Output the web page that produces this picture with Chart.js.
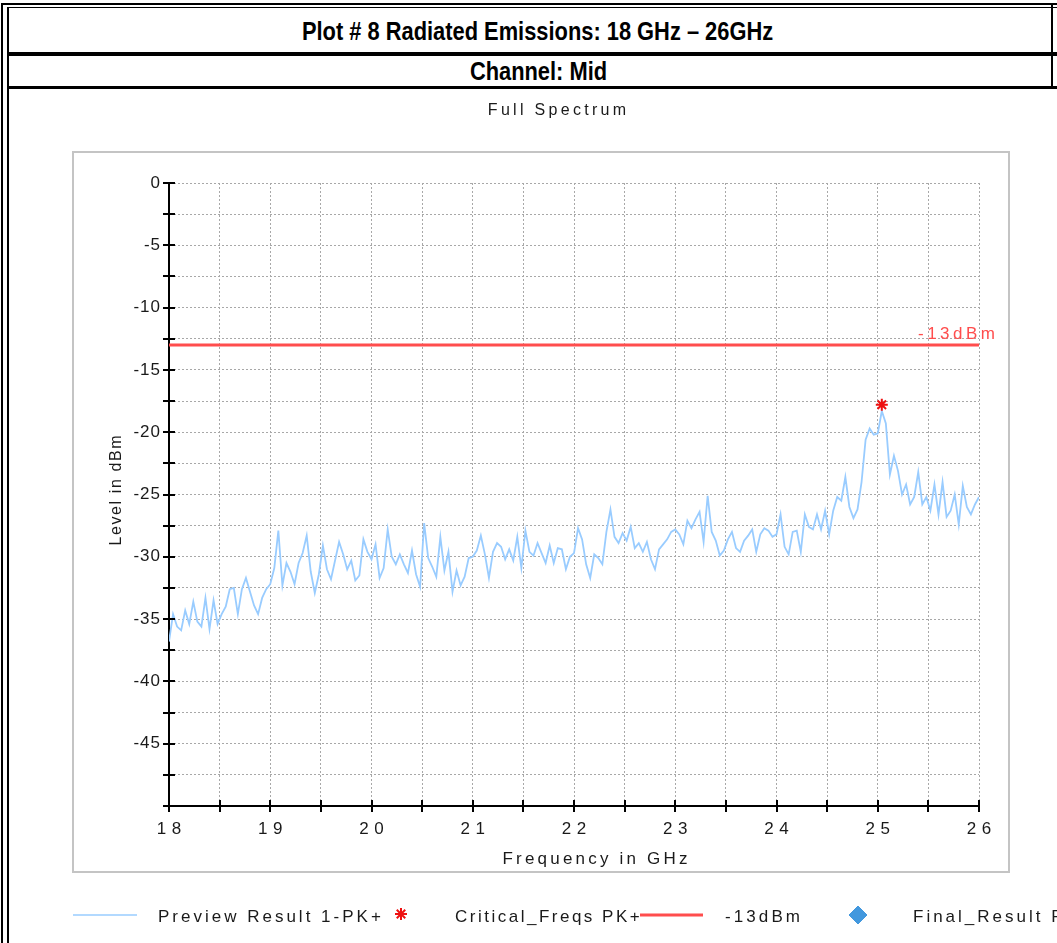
<!DOCTYPE html>
<html><head><meta charset="utf-8">
<script src="https://cdn.jsdelivr.net/npm/chart.js@4/dist/chart.umd.min.js"></script>
<style>
html,body{margin:0;padding:0;background:#fff;overflow:hidden;width:1057px;height:943px;}
.ln{position:absolute;background:#000;}
.t{position:absolute;left:10px;width:1056px;text-align:center;font-family:'Liberation Sans',Arial,sans-serif;font-weight:bold;font-size:25px;color:#000;height:28px;line-height:28px;white-space:nowrap;}
.t span{display:inline-block;transform:scaleX(0.874);transform-origin:50% 50%;}
#wrap{position:absolute;left:12px;top:90px;width:1100px;height:853px;}
</style></head><body>
<div class="ln" style="left:1px;top:3px;width:2px;height:940px"></div>
<div class="ln" style="left:7px;top:7px;width:2px;height:936px"></div>
<div class="ln" style="left:1px;top:3px;width:1056px;height:2px"></div>
<div class="ln" style="left:7px;top:7px;width:1050px;height:1px"></div>
<div class="ln" style="left:1051px;top:3px;width:2px;height:86px"></div>
<div class="ln" style="left:7px;top:52px;width:1050px;height:4px"></div>
<div class="ln" style="left:7px;top:86px;width:1050px;height:3px"></div>
<div class="t" style="top:17px"><span>Plot # 8 Radiated Emissions: 18 GHz – 26GHz</span></div>
<div class="t" style="top:57px"><span>Channel: Mid</span></div>
<div id="wrap"><canvas id="c" width="1100" height="853"></canvas></div>
<script>
const FONT = "'Liberation Sans', Arial, sans-serif";
const chartTitle = 'Full Spectrum';
const xTitle = 'Frequency in GHz';
const yTitle = 'Level in dBm';
const freqStep = 0.04;
// Preview Result 1-PK+ levels (dBm), one array per GHz band, 0.04 GHz apart
const level18 = [-36.8,-34.6,-35.6,-35.9,-34.3,-35.4,-33.6,-35.2,-35.6,-33.3,-35.8,-33.5,-35.4,-34.6,-34.0,-32.6,-32.5,-34.6,-32.6,-31.7,-32.8,-33.9,-34.6,-33.3,-32.6];
const level19 = [-32.2,-30.9,-27.9,-32.3,-30.5,-31.2,-32.2,-30.5,-29.7,-28.3,-31.2,-32.9,-31.4,-29.1,-31.0,-31.8,-30.3,-28.8,-29.8,-31.0,-30.3,-31.9,-31.5,-28.6,-29.6];
const level20 = [-30.2,-29.0,-31.7,-30.9,-27.8,-30.0,-30.6,-29.8,-30.6,-31.3,-29.5,-31.4,-32.4,-27.3,-30.1,-30.8,-31.6,-28.4,-31.1,-29.6,-32.8,-31.1,-32.3,-31.6,-30.1];
const level21 = [-30.0,-29.5,-28.3,-29.8,-31.7,-29.6,-28.9,-29.2,-30.2,-29.4,-30.3,-28.4,-30.9,-27.9,-29.6,-29.9,-28.9,-29.7,-30.5,-29.1,-30.5,-29.3,-29.4,-31.0,-30.0];
const level22 = [-29.7,-27.7,-28.6,-30.6,-31.7,-29.8,-30.1,-30.6,-28.0,-26.2,-28.4,-28.9,-28.1,-28.7,-27.6,-29.3,-28.9,-29.6,-28.8,-30.2,-31.0,-29.4,-29.0,-28.6,-28.0];
const level23 = [-27.8,-28.2,-29.0,-27.1,-27.7,-27.0,-26.4,-28.8,-25.1,-28.0,-28.7,-29.9,-29.5,-28.6,-28.0,-29.3,-29.6,-28.7,-28.3,-27.8,-29.6,-28.2,-27.7,-27.9,-28.4];
const level24 = [-28.2,-26.6,-29.2,-29.8,-28.0,-27.9,-29.6,-26.6,-27.6,-27.8,-26.6,-27.8,-26.3,-28.2,-26.3,-25.2,-25.5,-23.6,-26.0,-26.9,-26.2,-24.0,-20.6,-19.7,-20.2];
const level25 = [-20.1,-18.3,-19.3,-23.4,-21.9,-23.1,-25.0,-24.2,-25.8,-25.2,-23.2,-25.8,-25.2,-26.3,-24.2,-26.6,-24.0,-26.8,-26.3,-25.0,-27.4,-24.3,-26.0,-26.6,-25.8,-25.2];
const bandStarts = [18, 19, 20, 21, 22, 23, 24, 25];
const bandLevels = [level18, level19, level20, level21, level22, level23, level24, level25];
const limitLevel = -13;
const limitLabel = '-13dBm';
const limitFreqs = [18, 26];
const criticalFreqs = [25.04];
const criticalLevels = [-17.8];
const xMin = 18, xMax = 26, xStep = 0.5;
const yMin = -50, yMax = 0, yStep = 2.5;

const previewPoints = [];
bandStarts.forEach((s, b) => bandLevels[b].forEach((v, i) => previewPoints.push({x: +(s + i * freqStep).toFixed(2), y: v})));
const limitPoints = limitFreqs.map(f => ({x: f, y: limitLevel}));
const criticalPoints = criticalFreqs.map((f, i) => ({x: f, y: criticalLevels[i]}));

const BLUE = '#99ccff', RED = '#ff4d4d', STAR = '#ee1111', DIAMOND = '#4298de', TXT = '#1a1a1a';

function spacedText(ctx, text, x, y, size, sp, align, color, weight) {
  ctx.save();
  ctx.font = (weight || '') + ' ' + size + 'px ' + FONT;
  ctx.letterSpacing = sp + 'px';
  ctx.fillStyle = color;
  ctx.textBaseline = 'middle';
  let w = ctx.measureText(text).width;
  let x0 = x;
  if (align === 'center') x0 = x - (w - sp) / 2;
  else if (align === 'right') x0 = x - (w - sp);
  ctx.textAlign = 'left';
  ctx.fillText(text, x0, y);
  ctx.restore();
}

const spacingPlugin = {
  id: 'spacing',
  afterUpdate(chart) {
    ['x', 'y'].forEach(id => {
      const s = chart.scales[id];
      if (s && !s._spPatched) {
        const orig = s.drawLabels;
        const sp = id === 'x' ? 5.5 : 1;
        s.drawLabels = function (area) {
          const c = this.ctx;
          c.save();
          c.letterSpacing = sp + 'px';
          if (id === 'x') c.translate(sp / 2, 0);
          orig.call(this, area);
          c.restore();
        };
        s._spPatched = true;
      }
    });
  }
};

const decorPlugin = {
  id: 'decor',
  beforeDraw(chart) {
    const {ctx, chartArea: a} = chart;
    ctx.save();
    ctx.strokeStyle = '#c4c4c4';
    ctx.lineWidth = 2;
    ctx.strokeRect(a.left - 96, a.top - 31, (a.right + 30) - (a.left - 96), (a.bottom + 66) - (a.top - 31));
    ctx.restore();
  },
  afterDraw(chart) {
    const {ctx, chartArea: a, scales: {x, y}} = chart;
    ctx.save();
    ctx.strokeStyle = '#000';
    ctx.lineWidth = 2;
    ctx.beginPath();
    y.ticks.forEach(t => { const py = Math.round(y.getPixelForValue(t.value)); ctx.moveTo(a.left - 6, py); ctx.lineTo(a.left + 6, py); });
    x.ticks.forEach(t => { const px = Math.round(x.getPixelForValue(t.value)); ctx.moveTo(px, a.bottom - 6); ctx.lineTo(px, a.bottom + 6); });
    ctx.stroke();
    ctx.restore();
    spacedText(ctx, limitLabel, x.getPixelForValue(xMax) + 16, y.getPixelForValue(limitLevel) - 11, 17, 3.5, 'right', RED);
    const mid = (a.left + a.right) / 2;
    spacedText(ctx, chartTitle, mid - 17, a.top - 72, 16, 3.3, 'center', TXT);
    spacedText(ctx, xTitle, mid + 21, a.bottom + 53, 17, 3.2, 'center', TXT);
    ctx.save();
    ctx.translate(a.left - 52, (a.top + a.bottom) / 2 - 4);
    ctx.rotate(-Math.PI / 2);
    spacedText(ctx, yTitle, 0, 0, 16, 1.6, 'center', TXT);
    ctx.restore();
    const ds = chart.data.datasets;
    const ly = a.bottom + 111;
    const L = a.left;
    ctx.save();
    ctx.strokeStyle = ds[0].borderColor; ctx.lineWidth = 1.5;
    ctx.beginPath(); ctx.moveTo(L - 96, ly - 2); ctx.lineTo(L - 32, ly - 2); ctx.stroke();
    spacedText(ctx, ds[0].label, L - 11, ly, 17, 3, 'left', TXT);
    ctx.strokeStyle = STAR; ctx.fillStyle = STAR; ctx.lineWidth = 2;
    Chart.helpers.drawPoint(ctx, {pointStyle: 'star', radius: 6, rotation: 0, borderWidth: 2}, L + 232, ly - 3);
    spacedText(ctx, ds[2].label, L + 286, ly, 17, 2.5, 'left', TXT);
    ctx.strokeStyle = ds[1].borderColor; ctx.lineWidth = 3;
    ctx.beginPath(); ctx.moveTo(L + 471, ly - 2); ctx.lineTo(L + 534, ly - 2); ctx.stroke();
    spacedText(ctx, ds[1].label, L + 556, ly, 17, 3.1, 'left', TXT);
    ctx.fillStyle = DIAMOND; ctx.strokeStyle = DIAMOND; ctx.lineWidth = 1;
    Chart.helpers.drawPoint(ctx, {pointStyle: 'rectRot', radius: 9, rotation: 0, borderWidth: 1}, L + 689, ly - 2);
    spacedText(ctx, ds[3].label, L + 744, ly, 17, 3, 'left', TXT);
    ctx.restore();
  }
};

new Chart(document.getElementById('c'), {
  type: 'line',
  data: {
    datasets: [
      {label: 'Preview Result 1-PK+', data: previewPoints, borderColor: BLUE, backgroundColor: BLUE, borderWidth: 1.8, pointRadius: 0, tension: 0, order: 1},
      {label: '-13dBm', data: limitPoints, borderColor: RED, backgroundColor: RED, borderWidth: 3, pointRadius: 0, order: 2},
      {label: 'Critical_Freqs PK+', data: criticalPoints, showLine: false, pointStyle: 'star', pointRadius: 6, pointBorderWidth: 2, borderColor: STAR, backgroundColor: STAR, order: 0},
      {label: 'Final_Result PK+', data: [], showLine: false, pointStyle: 'rectRot', pointRadius: 8, borderColor: DIAMOND, backgroundColor: DIAMOND, order: 0}
    ]
  },
  options: {
    responsive: false,
    animation: false,
    events: [],
    layout: {padding: {left: 97, top: 93, right: 133, bottom: 77}},
    plugins: {legend: {display: false}, title: {display: false}, tooltip: {enabled: false}},
    scales: {
      x: {
        type: 'linear', min: xMin, max: xMax,
        ticks: {stepSize: xStep, autoSkip: false, maxRotation: 0, padding: 13, color: TXT, font: {family: FONT, size: 17},
          callback: v => Math.abs(v - Math.round(v)) < 1e-6 ? String(Math.round(v)) : ''},
        grid: {drawTicks: false, lineWidth: 1, color: c => (c.tick && Math.abs(c.tick.value - xMin) < 1e-6) ? 'rgba(0,0,0,0)' : '#a8a8a8'},
        border: {display: true, color: '#000', width: 2, dash: [2, 2]},
        afterFit: s => { s.height = 60; }
      },
      y: {
        type: 'linear', min: yMin, max: yMax,
        ticks: {stepSize: yStep, autoSkip: false, padding: 8, color: TXT, font: {family: FONT, size: 17},
          callback: v => (Math.abs(v % 5) < 1e-6 && v !== yMin) ? String(v) : ''},
        grid: {drawTicks: false, lineWidth: 1, color: c => (c.tick && Math.abs(c.tick.value - yMin) < 1e-6) ? 'rgba(0,0,0,0)' : '#a8a8a8'},
        border: {display: true, color: '#000', width: 2, dash: [2, 2]},
        afterFit: s => { s.width = 60; }
      }
    }
  },
  plugins: [spacingPlugin, decorPlugin]
});
</script>
</body></html>
